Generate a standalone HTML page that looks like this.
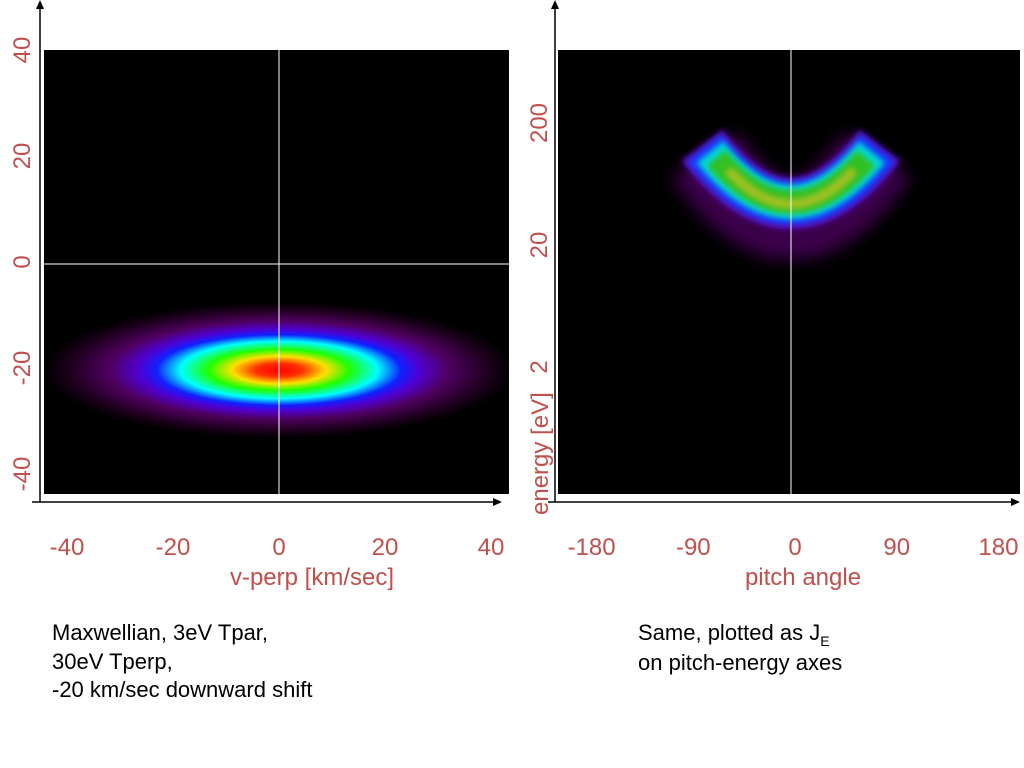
<!DOCTYPE html>
<html><head><meta charset="utf-8"><style>
body{margin:0;background:#fff;width:1024px;height:768px;overflow:hidden}
svg{display:block}
.t{font-family:"Liberation Sans",sans-serif;font-size:24px;fill:#c0504d}
.b{font-family:"Liberation Sans",sans-serif;font-size:22px;fill:#000}
</style></head><body>
<svg width="1024" height="768">
<defs>
<radialGradient id="maxw" cx="0.5" cy="0.5" r="0.5">
<stop offset="0" stop-color="#ff0000"/>
<stop offset="0.1" stop-color="#ff3000"/>
<stop offset="0.2" stop-color="#ffe000"/>
<stop offset="0.3" stop-color="#20ff00"/>
<stop offset="0.42" stop-color="#00ffff"/>
<stop offset="0.52" stop-color="#1020ff"/>
<stop offset="0.6" stop-color="#5000d0"/>
<stop offset="0.72" stop-color="#500060"/>
<stop offset="0.88" stop-color="#200020"/>
<stop offset="1" stop-color="#000000"/>
</radialGradient>
<filter id="blur" x="-50%" y="-100%" width="200%" height="300%"><feGaussianBlur stdDeviation="8"/></filter>
<filter id="blur2" x="-50%" y="-100%" width="200%" height="300%"><feGaussianBlur stdDeviation="3"/></filter>
<clipPath id="lclip"><rect x="44" y="50" width="465" height="444"/></clipPath>
<clipPath id="rclip"><rect x="558" y="50" width="462" height="444"/></clipPath>
</defs>
<g>
<rect x="44" y="50" width="465" height="444" fill="#000"/>
<ellipse clip-path="url(#lclip)" cx="279" cy="370" rx="235" ry="68" fill="url(#maxw)"/>
<line x1="279" y1="50" x2="279" y2="494" stroke="#fff" stroke-width="1"/>
<line x1="44" y1="264" x2="509" y2="264" stroke="#fff" stroke-width="1"/>
<line x1="40" y1="6" x2="40" y2="502" stroke="#000" stroke-width="1.5"/>
<polygon points="40,0 36,9 44,9" fill="#000"/>
<line x1="32" y1="502" x2="494" y2="502" stroke="#000" stroke-width="1.5"/>
<polygon points="502,502 493,498 493,506" fill="#000"/>
<g id="lxt"></g>
<g id="lyt"></g>
<text class="t" x="312" y="585" text-anchor="middle">v-perp [km/sec]</text>
</g>
<g>
<rect x="558" y="50" width="462" height="444" fill="#000"/>
<g clip-path="url(#rclip)">
<path d="M705,155 Q791,285 877,155" fill="none" stroke="#3a0048" stroke-width="80" filter="url(#blur)"/>
<path d="M702,145 Q791,262 880,145" fill="none" stroke="#5a10b0" stroke-width="52" filter="url(#blur2)"/>
<path d="M704,148 Q791,258 878,148" fill="none" stroke="#1838ff" stroke-width="44" filter="url(#blur2)"/>
<path d="M710,152 Q791,252 872,152" fill="none" stroke="#00d8d8" stroke-width="34" filter="url(#blur2)"/>
<path d="M716,158 Q791,246 866,158" fill="none" stroke="#30c020" stroke-width="24" filter="url(#blur2)"/>
<path d="M728,170 Q791,238 854,170" fill="none" stroke="#a0c020" stroke-width="10" filter="url(#blur2)"/>
</g>
<line x1="791" y1="50" x2="791" y2="494" stroke="#fff" stroke-width="1"/>
<line x1="555" y1="6" x2="555" y2="502" stroke="#000" stroke-width="1.5"/>
<polygon points="555,0 551,9 559,9" fill="#000"/>
<line x1="548" y1="502" x2="1012" y2="502" stroke="#000" stroke-width="1.5"/>
<polygon points="1020,502 1011,498 1011,506" fill="#000"/>
<g id="rxt"></g>
<g id="ryt"></g>
<text class="t" transform="translate(548,515) rotate(-90)">energy [eV]</text>
<text class="t" x="803" y="585" text-anchor="middle">pitch angle</text>
</g>
<g>
<text class="b" x="52" y="640">Maxwellian, 3eV Tpar,</text>
<text class="b" x="52" y="669">30eV Tperp,</text>
<text class="b" x="52" y="697">-20 km/sec downward shift</text>
</g>
<g>
<text class="b" x="638" y="640">Same, plotted as J<tspan font-size="14" dy="6">E</tspan></text>
<text class="b" x="638" y="670">on pitch-energy axes</text>
</g>
</svg>
<script>
const leftXTicks=[-40,-20,0,20,40];
const leftYTicks=[40,20,0,-20,-40];
const rightXTicks=[-180,-90,0,90,180];
const rightYTicks=[200,20,2];
const NS="http://www.w3.org/2000/svg";
const lx=v=>279+v*5.3, ly=v=>262-v*5.3;
const rx=v=>795+v*1.13, ry=v=>245-Math.log10(v/20)*122;
function txt(g,x,y,s,rot){const t=document.createElementNS(NS,'text');t.setAttribute('class','t');
 if(rot){t.setAttribute('transform','translate('+x+','+y+') rotate(-90)');t.setAttribute('text-anchor','middle');}
 else{t.setAttribute('x',x);t.setAttribute('y',y);t.setAttribute('text-anchor','middle');}
 t.textContent=s;g.appendChild(t);return t;}
const g1=document.getElementById('lxt');
leftXTicks.forEach(v=>{const t=txt(g1,lx(v),555,String(v));

});
const g2=document.getElementById('lyt');
leftYTicks.forEach(v=>{const t=txt(g2,30,ly(v),String(v),true);

});
const g3=document.getElementById('rxt');
rightXTicks.forEach(v=>{const t=txt(g3,rx(v),555,String(v));

});
const g4=document.getElementById('ryt');
rightYTicks.forEach(v=>{const t=txt(g4,547,ry(v),String(v),true);

});
</script>
</body></html>
